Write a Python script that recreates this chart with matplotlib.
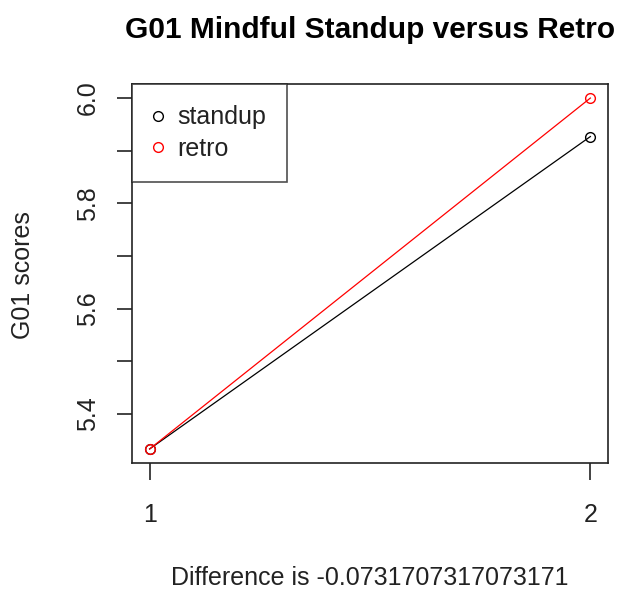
import matplotlib
matplotlib.use('Agg')
import matplotlib.pyplot as plt
from matplotlib.lines import Line2D

plt.rcParams['font.family'] = ['Liberation Sans', 'DejaVu Sans']

# data
sessions = [1, 2]
standup = [5.333333333333333, 5.926829268292683]
retro = [5.333333333333333, 6.0]
difference = standup[1] - retro[1]

W, H = 631, 595
fig = plt.figure(figsize=(W / 100, H / 100), dpi=100)
ax = fig.add_axes([132 / W, 1 - 463 / H, (608 - 132) / W, (463 - 84) / H])

ax.plot(sessions, standup, '-o', color='black', lw=0.9,
        mfc='none', mec='black', ms=7, mew=1.0)
ax.plot(sessions, retro, '-o', color='red', lw=0.9,
        mfc='none', mec='red', ms=7, mew=1.0)

# R style 4% extension
lo = min(min(standup), min(retro))
hi = max(max(standup), max(retro))
pad = (hi - lo) * 0.04
ax.set_ylim(lo - pad, hi + pad)
ax.set_xlim(1 - 0.04, 2 + 0.04)

ax.set_xticks([1, 2])
ax.set_xticklabels(['1', '2'])
ax.set_yticks([5.4, 5.5, 5.6, 5.7, 5.8, 5.9, 6.0])
ax.set_yticklabels(['5.4', '', '5.6', '', '5.8', '', '6.0'], rotation=90, va='center')

ax.tick_params(axis='x', length=12, width=1.2, pad=17, labelsize=18, colors='#222222')
ax.tick_params(axis='y', length=11, width=1.2, pad=12, labelsize=18, colors='#222222')
for s in ax.spines.values():
    s.set_linewidth(1.2)
    s.set_color('#222222')

fig.text(370 / W, 1 - 30 / H, 'G01 Mindful Standup versus Retro',
         fontsize=21.5, fontweight='bold', ha='center', va='center')
fig.text(370 / W, 1 - 578 / H, 'Difference is ' + repr(round(difference, 16)),
         fontsize=18, ha='center', va='center', color='#222222')
fig.text(23 / W, 1 - 275 / H, 'G01 scores', fontsize=18, rotation=90,
         ha='center', va='center', color='#222222')

handles = [
    Line2D([], [], ls='none', marker='o', mfc='none', mec='black', ms=7, mew=1.0),
    Line2D([], [], ls='none', marker='o', mfc='none', mec='red', ms=7, mew=1.0),
]
leg = ax.legend(handles, ['standup', 'retro'], loc='upper left', fontsize=18,
                frameon=True, fancybox=False, borderaxespad=0, handlelength=0.4,
                handletextpad=0.55, borderpad=0.85, labelspacing=0.3)
leg.get_frame().set_edgecolor('#222222')
leg.get_frame().set_linewidth(1.2)
for t in leg.get_texts():
    t.set_color('#222222')

fig.savefig('out.png', dpi=100)
